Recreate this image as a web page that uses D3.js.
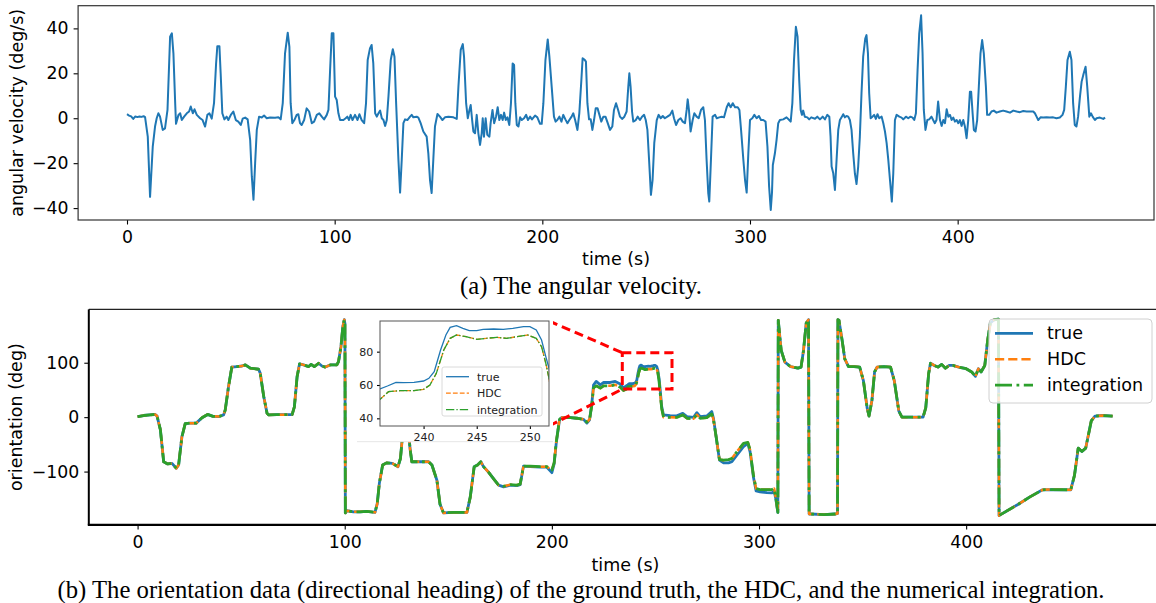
<!DOCTYPE html>
<html>
<head>
<meta charset="utf-8">
<script src="https://cdn.jsdelivr.net/npm/d3@7"></script>
<style>
  body { margin: 0; background: #fff; }
  svg { display: block; }
</style>
</head>
<body>
<div id="chart"></div>
<script>
/* (a) angular velocity, (b) orientation with inset zoom */

// (a) angular velocity [time s, deg/s]
const angVel = [
  [0,1.8],[1,1.2],[2,0.8],[3,-0.3],[4,0.8],[5,0.5],[6,0.8],[7,0.6],[8,0.9],[8.7,0.5],[10,-8.2],[11.1,-35],[12.4,-12.6],[13.5,-3.7],[14.3,0],[15.1,2.2],[15.9,0.7],[17.2,-5.2],[18.3,-4.5],[19.5,3.7],
  [20.75,36.3],[21.6,37.8],[22.35,28.9],[23.2,6.7],[23.6,-2.5],[24.8,1.5],[25.6,2.2],[26.4,-0.8],[27.5,0.7],[28.8,2.2],[29.9,3.0],[30.7,5.2],[31.7,2.2],[32.5,4.0],[33.6,1.5],[35.2,0],[36.4,-0.8],[37.6,-3.7],[38.7,1.5],[39.7,2.2],
  [40.8,-0.2],[41.9,6.7],[42.9,24.4],[43.5,32.1],[44.5,32.1],[45.1,20],[45.9,2.2],[46.9,-0.5],[48.0,0.7],[48.8,-0.8],[50.0,1.5],[51.2,3.0],[52.4,-0.8],[53.6,-1.5],[54.8,-3.0],[55.7,-0.2],[56.9,0.3],[58.1,-0.5],[59.3,-9.6],
  [60.1,-25.9],[60.9,-36.3],[61.7,-20],[62.5,-5.2],[63.6,0.7],[64.9,0.3],[66.0,1.2],[67.3,0],[68.9,0.3],[71.3,0.2],[72.9,0.4],[74.0,-0.5],[75.0,6.7],[76.1,28.9],[77.4,38.1],[78.2,31.8],[78.8,6.7],[79.6,-2.2],
  [80.6,-0.8],[81.7,1.5],[82.5,1.8],[83.3,-2.2],[84.1,-3.0],[85.3,-0.8],[86.5,4.4],[87.7,3.0],[89.0,-2.2],[90.1,-1.5],[91.4,1.5],[92.6,2.2],[93.8,0.7],[94.9,-0.5],[96.2,1.5],[97.0,3.7],[97.8,21.5],[98.6,37.8],[99.4,37.8],
  [100.2,9.6],[101.0,8.1],[101.8,2.2],[102.6,-0.8],[104.2,-0.8],[105.3,0],[106.1,0.7],[106.9,-0.8],[107.7,1.5],[108.6,-0.8],[109.8,1.5],[111.0,-0.8],[111.9,1.8],[113.0,-0.8],[114.2,-2.2],[115.1,6.7],[115.9,25.9],[117.0,31.1],[117.8,32.6],[118.6,24.4],[119.5,2.2],
  [120.3,0.7],[121.1,2.2],[121.9,3.4],[122.7,0],[123.5,-0.8],[124.3,-3.4],[125.1,-0.8],[125.9,9.6],[127.0,25.9],[128.0,30.7],[128.8,27.4],[129.6,6.7],[130.7,-18.5],[131.5,-33.1],[132.3,-18.5],[133.1,-2.2],[133.9,-0.5],[135.0,-0.8],[136.3,0.7],[137.1,1.5],[137.9,0.4],[139.5,0.7],
  [140.3,0.3],[141.4,-2.2],[142.7,-5.9],[144.3,-8.2],[145.1,-15.6],[145.9,-27.4],[146.7,-33.3],[147.5,-18.5],[148.3,-3.7],[149.5,1.9],[150.7,0.7],[151.9,-0.8],[153.1,0.4],[154.8,0.7],[157.2,0.4],[158.8,-0.3],[159.6,14.1],
  [160.7,30.4],[161.7,33.0],[162.3,27.4],[163.3,6.7],[164.1,0],[164.9,3.7],[165.5,5.9],[166.2,-0.8],[166.8,-5.9],[167.6,-6.7],[168.4,1.5],[169.2,-6.7],[170.0,-11.9],[170.8,-6.7],[171.3,0],[171.9,-8.2],[172.7,0],[173.5,-7.4],[174.5,-8.2],[175.1,-2.2],[176.0,3.7],[176.8,-2.2],[177.7,0.7],[178.5,4.9],[179.3,-0.8],
  [180.1,1.5],[180.9,-0.8],[181.6,2.5],[182.4,-0.8],[183.2,0.4],[184.1,-3.0],[184.9,6.7],[185.7,24.4],[186.4,23.7],[187.0,6.7],[187.7,-3.0],[188.5,-3.7],[189.3,0.4],[190.1,-0.8],[191.2,0],[192.2,1.5],[193.1,-0.8],[194.1,0.7],[195.0,-0.5],[196.5,1.2],[197.6,0.4],[198.9,-2.5],[199.7,-2.5],
  [200.5,6.7],[201.5,25.9],[202.6,35.1],[203.4,27.4],[204.5,14.1],[205.6,0.7],[206.4,-1.5],[207.2,-0.8],[208.2,0.7],[209.2,-1.5],[210.1,1.5],[211.1,-0.5],[212.1,-2.2],[213.0,-0.8],[214.1,0.7],[214.9,2.2],[215.8,-0.8],[216.9,-5.2],[217.8,2.2],[218.8,17.0],[219.4,26.7],
  [220.4,26.0],[221.0,25.2],[221.7,6.7],[222.5,-0.5],[223.3,-0.5],[224.1,-5.2],[224.9,-0.8],[225.7,4.4],[226.6,4.4],[227.5,1.5],[228.4,-1.5],[229.4,0.7],[230.4,0.7],[231.5,-2.2],[232.6,-5.2],[233.7,-3.7],[234.5,3.7],[235.5,6.7],[236.5,3.7],[237.4,0.7],[238.4,-0.3],[239.5,0.7],
  [240.6,3.0],[241.4,14.1],[241.9,20.0],[242.5,14.1],[243.2,3.0],[243.8,-1.5],[245.0,-0.8],[245.9,0.7],[247.0,-0.8],[248.0,0.7],[249.0,1.5],[249.8,-0.8],[250.6,-5.2],[251.4,-18.5],[252.3,-34.1],[253.1,-27.4],[253.9,-11.1],[255.1,-0.8],[256.0,1.5],[257.0,0],[258.0,1.0],[259.0,0],
  [260.2,0.7],[261.5,1.5],[262.6,3.4],[263.4,0],[264.4,-3.0],[265.5,-0.8],[266.6,0],[267.6,-1.5],[268.7,-2.2],[269.5,3.7],[270.0,8.4],[270.6,3.7],[271.4,-5.9],[272.4,-0.8],[273.2,2.2],[274.3,0.7],[275.3,0],[276.4,3.7],[277.5,4.9],[278.3,-0.8],[279.1,-18.5],[279.9,-33.3],
  [280.4,-37.1],[281.2,-18.5],[282.0,0.7],[283.2,1.5],[284.0,0],[285.2,0.4],[286.4,0.7],[287.5,0.4],[288.8,4.9],[289.7,6.7],[290.7,4.9],[291.7,6.7],[292.8,4.9],[294.1,4.9],[294.9,3.7],[295.7,-5.2],[296.8,-18.5],[297.6,-27.4],[298.4,-33.1],[299.2,-15.6],
  [300.0,-0.8],[301.1,0],[302.1,1.5],[303.2,0],[304.3,1.0],[305.3,-0.8],[306.4,-0.8],[307.5,-1.5],[308.4,-12.6],[309.2,-30.4],[310.0,-40.8],[310.6,-33],[311.0,-20.8],[312.0,-15.6],[312.8,-9.6],[313.6,-2.2],[314.4,-0.8],[316.0,-0.5],[317.6,0.4],[318.9,-0.8],[319.6,-1.5],
  [320.4,6.7],[321.2,25.9],[322.1,40.7],[322.9,36.3],[323.7,17.0],[324.4,3.7],[325.0,1.5],[325.6,3.4],[326.4,0.7],[327.6,0.4],[328.5,-0.5],[329.5,0.4],[331.3,-0.2],[332.4,0.7],[333.7,-0.5],[335.0,0.7],[336.1,-0.5],[337.2,1.5],[338.2,0.7],[338.8,-8.2],[339.3,-21.5],
  [340.1,-24.5],[340.9,-31.9],[341.7,-18.5],[342.5,-5.2],[343.3,-0.8],[344.1,0.4],[344.9,1.8],[345.7,0.4],[346.5,1.0],[347.3,0.7],[348.1,-0.8],[348.9,-5.2],[349.7,-15.6],[350.5,-24.5],[351.3,-29.3],[352.1,-21.5],[352.9,-8.2],[353.7,11.1],[354.5,27.4],[355.5,35.5],[356.1,37.0],[356.8,28.9],[357.4,11.1],[358.1,0],[359.0,0.7],[359.8,1.5],
  [360.6,-0.3],[361.4,1.8],[362.2,0],[363.4,0.7],[364.2,-2.2],[365.0,-5.9],[365.8,-11.1],[366.6,-18.5],[367.4,-27.4],[368.3,-37.1],[369.0,-24.5],[369.8,-0.8],[370.6,1.5],[371.9,0.7],[373.0,0.3],[373.8,-0.5],[375.1,0.7],[376.2,0],[377.3,0.7],[378.3,0.3],[379.1,-0.8],[379.9,2.2],
  [380.7,21.5],[381.5,37.8],[382.4,45.8],[383.1,28.9],[383.7,3.7],[384.5,-5.2],[385.4,-0.8],[386.3,-0.5],[387.4,0.7],[388.2,-0.8],[389.0,-2.2],[389.8,-0.8],[390.6,7.4],[391.5,-0.8],[392.3,-3.4],[393.1,-0.8],[393.9,-2.2],[394.7,4.0],[395.5,0.7],[396.3,1.5],[397.1,-0.8],[397.9,0.3],[398.7,-1.5],[399.5,-0.8],
  [400.3,-2.2],[401.1,-0.8],[401.9,-3.4],[402.7,-0.8],[403.5,-3.7],[404.3,-8.9],[405.1,-0.8],[405.9,11.8],[406.5,11.8],[407.2,2.2],[407.8,-5.2],[408.6,-5.9],[409.4,-0.8],[410.2,14.1],[411.0,28.9],[411.8,34.8],[412.6,28.9],[413.6,14.1],[414.2,1.5],[415.2,1.5],[416.3,3.0],[417.4,3.4],[418.7,2.5],
  [420.3,3.0],[421.9,3.4],[423.5,3.0],[425.2,2.5],[426.8,3.4],[428.4,3.0],[430.0,2.7],[431.6,3.2],[433.2,3.0],[434.8,3.0],[436.4,3.0],[437.2,2.2],[438.0,0.7],[438.8,-0.8],[439.9,0.4],[441.2,0.3],[442.8,0.4],[444.4,0.3],[446.0,0.4],[447.6,0],[449.2,0.3],
  [450.5,1.5],[451.3,3.7],[452.1,14.1],[452.9,25.9],[454.0,29.6],[454.8,25.9],[455.6,6.7],[456.4,-3.0],[457.2,-3.7],[458.0,0.7],[458.9,9.6],[459.7,16.3],[460.5,19.3],[461.6,22.9],[462.4,14.1],[463.4,0.7],[464.2,2.2],[465.0,0.7],[466.1,-0.8],[466.9,0],[468.5,0.3],[470.1,-0.3],[471.0,0.3]
];

// (b) ground truth heading [time s, deg]
const orientTrue = [
  [0,1],[2.9,3],[6,4],[8.5,5],[9.4,2],[11.0,-23],[12.6,-82],[14.5,-86],[16.6,-85],[18.7,-94],[19.8,-88],[21.4,-36],[23.0,-12],[25.4,-11],[28.3,-11],[31.1,-1],[33.8,5],[36.4,1.5],[39.1,1],[41.5,4],[42.3,13],[43.9,56],[45.5,92],[48.0,93],
  [50.4,94],[52.0,96],[54.4,90],[58.4,88],[59.2,81],[60.9,38],[62.5,7],[63.3,4],[67.3,4.5],[71.4,4.5],[74.6,4.5],[75.7,19],[77.0,74],[78.2,98],[80.1,96],[82.6,93],[83.8,97],[85.3,93],[87.4,99],[89.0,94],[90.6,92],[93.0,96],[96.2,96],[97.0,102],[98.2,130],[99.1,167],[99.8,179],[100.1,172],
  [100.3,-176],[101.0,-172],[104.2,-174],[107.4,-174],[110.6,-173],[114.6,-175],[115.7,-159],[116.7,-122],[118.3,-88],[120.2,-84],[123.0,-85],[125.7,-91],[126.9,-76],[128.0,-30],[129.5,5],[130.5,-15],[131.6,-60],[132.4,-82],[136.5,-82],[140.5,-82],[142.1,-88],[144.5,-116],[146.0,-160],[147.7,-176],
  [152.5,-175],[159.0,-175],[160.6,-147],[162.5,-91],[164.1,-88],[165.7,-82],[167.0,-91],[169.4,-101],[171.8,-113],[174.3,-125],[176.7,-128],[179.9,-125],[183.1,-126],[184.7,-124],[186.3,-90],[189.5,-91],[194.4,-92],[197.6,-92],[200.0,-102],[201.1,-86],[202.1,-48],[203.7,-5],[204.8,-0.5],[208.9,-1],[212.1,-2],[215.3,-4],[216.9,-11],[218.2,-5],
  [219.3,25],[220.1,59],[221.4,65.6],[223.4,59.4],[225,63.7],[228.2,63.7],[230.6,65.6],[233,61],[234.6,53.3],[235.9,57.6],[236.6,59.4],[237.4,61.6],[238.1,61.4],[239.1,61.6],[240.0,62.4],[240.5,64],[241.0,68],[241.6,81],[242.1,90],[242.5,94.6],[243.1,95.6],[243.7,94],[244.3,92.6],[245.0,92.6],[245.6,93.4],[246.6,93.6],[247.5,93.4],[248.4,94],[249.4,95],[250.0,95],[250.6,93],[251.1,87],[251.5,77],[251.8,70],[252.3,50],[253.0,20],[253.9,4],
  [257.1,2.8],[260.3,2.5],[263.2,7],[265.2,1],[268.4,-0.3],[270,8.3],[271.6,1],[274.8,2.2],[277.2,10.2],[278.0,-2.1],[279.3,-36],[280.9,-79],[282.9,-84],[285.3,-84],[286.9,-82],[289.3,-70],[292.5,-54.4],[294.6,-48.3],[295.7,-63.6],[297.3,-110],[298.6,-135.6],[300.5,-137.4],[303.8,-138.7],[306.2,-139.3],[307.3,-135.6],[308.1,-150],[309.1,-175],
  [309.3,178],[310.0,150],[310.7,123],[312.5,101],[315.2,93],[318.8,90],[320.3,92],[321.5,123],[322.8,173],[323.9,179],[324.2,-178],[325.1,-178],[331.4,-179],[336.8,-178],[337.9,-177],[338.1,179],[338.6,178],[340.1,142],[341.4,107],[343.2,93],[345.9,93],[348.6,92],[350.4,67],[352.2,17],[353.1,2],[354.5,30],[355.8,83],[357.0,92],
  [360.3,93],[363.5,92],[365.3,67],[367.5,11],[369.0,0],[372.9,0],[379.2,0],[380.5,17],[381.9,80],[382.8,99],[384.6,95],[386.4,92],[388.2,97],[390.0,90],[391.8,95],[393.6,95],[396.4,92],[400.0,89],[402.7,83],[404.5,75],[405.9,89],[407.2,83],[409.0,95],[410.4,142],[411.7,173],[413.5,179],[415.6,180],
  [415.9,-181],[416.2,-180],[425.2,-160],[430.6,-147],[436.9,-133.5],[441.4,-133],[450.5,-133.5],[452.3,-107],[454.1,-57],[455.9,-63],[457.7,-57],[460.4,-7],[462.2,2],[465.8,3],[470.7,2]
];

// (b) HDC output and numerical integration, same curve at this scale [time s, deg]
const orientEst = [
  [0,1],[2.9,3],[6,4],[8.5,5],[9.4,2],[11.0,-23],[12.6,-82],[14.5,-86],[16.6,-85],[18.7,-94],[19.8,-88],[21.4,-36],[23.0,-12],[25.4,-11],[28.3,-11],[31.1,-1],[33.8,5],[36.4,1.5],[39.1,1],[41.5,4],[42.3,13],[43.9,56],[45.5,92],[48.0,93],
  [50.4,94],[52.0,96],[54.4,90],[58.4,88],[59.2,81],[60.9,38],[62.5,7],[63.3,4],[67.3,4.5],[71.4,4.5],[74.6,4.5],[75.7,19],[77.0,74],[78.2,98],[80.1,96],[82.6,93],[83.8,97],[85.3,93],[87.4,99],[89.0,94],[90.6,92],[93.0,96],[96.2,96],[97.0,102],[98.2,130],[99.1,167],[99.8,179],[100.1,172],
  [100.3,-176],[101.0,-172],[104.2,-174],[107.4,-174],[110.6,-173],[114.6,-175],[115.7,-159],[116.7,-122],[118.3,-88],[120.2,-84],[123.0,-85],[125.7,-91],[126.9,-76],[128.0,-30],[129.5,5],[130.5,-15],[131.6,-60],[132.4,-82],[136.5,-82],[140.5,-82],[142.1,-88],[144.5,-116],[146.0,-160],[147.7,-176],
  [152.5,-175],[159.0,-175],[160.6,-147],[162.5,-91],[164.1,-88],[165.7,-82],[167.0,-91],[169.4,-101],[171.8,-113],[174.3,-125],[176.7,-127],[179.9,-124],[183.1,-125],[184.7,-123],[186.3,-90],[189.5,-90],[194.4,-91],[197.6,-91],[200.0,-97],[201.1,-84],[202.1,-46],[203.7,-4],[204.8,-0.5],[208.9,-1],[212.1,-2],[215.3,-4],[216.9,-9],[218.2,-4],
  [219.3,22],[220.1,54],[221.4,57.6],[223.4,53.3],[225,57.6],[228.2,57.6],[230.6,59.4],[233,55],[234.6,49],[235.9,51.4],[236.7,56],[237.8,56.6],[239.1,56.6],[240.0,57.4],[240.6,60],[241.2,67],[241.9,81],[242.5,88],[243.1,90],[244.0,89],[245.0,87.4],[245.9,88],[246.9,88.6],[247.8,88],[248.8,89],[249.8,90],[250.6,88],[251.1,83],[251.5,73],[251.8,64],[252.3,44],[253.0,16],[253.9,0],
  [257.1,-0.3],[260.3,-0.5],[263.2,4],[265.2,-2],[268.4,-3],[270,4.5],[271.6,-2],[274.8,-1],[277.2,6],[278.0,-4],[279.3,-36],[280.9,-78],[282.9,-79],[285.3,-78],[286.9,-76],[289.3,-63.6],[292.5,-48.3],[294.6,-46.4],[295.7,-60],[297.3,-107],[298.6,-131.3],[300.5,-133],[303.8,-133],[306.2,-133],[307.3,-131],[308.1,-148],[309.1,-175],
  [309.3,178],[310.0,150],[310.7,123],[312.5,101],[315.2,93],[318.8,90],[320.3,92],[321.5,123],[322.8,173],[323.9,179],[324.2,-178],[325.1,-178],[331.4,-179],[336.8,-178],[337.9,-177],[338.1,179],[338.6,178],[340.1,142],[341.4,107],[343.2,93],[345.9,93],[348.6,92],[350.4,67],[352.2,17],[353.1,2],[354.5,30],[355.8,83],[357.0,92],
  [360.3,93],[363.5,92],[365.3,67],[367.5,11],[369.0,0],[372.9,0],[379.2,0],[380.5,17],[381.9,80],[382.8,99],[384.6,95],[386.4,92],[388.2,97],[390.0,90],[391.8,95],[393.6,95],[396.4,92],[400.0,89],[402.7,83],[404.5,75],[405.9,89],[407.2,83],[409.0,95],[410.4,142],[411.7,173],[413.5,179],[415.6,180],
  [415.9,-181],[416.2,-180],[425.2,-160],[430.6,-147],[436.9,-133.5],[441.4,-133],[450.5,-133.5],[452.3,-107],[454.1,-57],[455.9,-63],[457.7,-57],[460.4,-7],[462.2,2],[465.8,3],[470.7,2]
];

const timeTicks = [0, 100, 200, 300, 400];
const avTicks = [-40, -20, 0, 20, 40];
const orientTicks = [-100, 0, 100];
const insetTimeTicks = [240, 245, 250];
const insetOrientTicks = [40, 60, 80];
const seriesNames = ['true', 'HDC', 'integration'];
// region marked in (b) and shown enlarged in the inset [t0, t1, v0, v1]
const zoomRegion = [234, 258, 51.5, 118.5];
const insetDomain = [235.9, 251.8, 35.4, 98.4];

const W = 1156, H = 603;
const FONT = 'DejaVu Sans, Liberation Sans, sans-serif';
const SERIF = 'Liberation Serif, Times New Roman, serif';
const BLUE = '#1f77b4', ORANGE = '#ff7f0e', GREEN = '#2ca02c';
const fmt = d => d < 0 ? '\u2212' + Math.abs(d) : String(d);

const styles = [
  { color: BLUE, width: 2.8, dash: null },
  { color: ORANGE, width: 2.5, dash: '9.2,4' },
  { color: GREEN, width: 2.8, dash: '17,4.5,2.8,4.5' }
];

const svg = d3.select('#chart').append('svg')
  .attr('width', W).attr('height', H)
  .attr('viewBox', `0 0 ${W} ${H}`);
svg.append('rect').attr('width', W).attr('height', H).attr('fill', '#fff');

function styleAxis(g, fs) {
  g.select('.domain').remove();
  g.selectAll('line').attr('stroke', '#000').attr('stroke-width', 1.1);
  g.selectAll('text').attr('font-family', FONT).attr('font-size', fs).attr('fill', '#000');
}

function drawTop() {
  const box = { l: 78.1, r: 1154, t: 5.7, b: 220 };
  const x = d3.scaleLinear().domain([-23.55, 494.55]).range([box.l, box.r]);
  const y = d3.scaleLinear().domain([-45.3, 50.1]).range([box.b, box.t]);
  const g = svg.append('g');

  g.append('g').attr('transform', `translate(0,${box.b})`)
    .call(d3.axisBottom(x).tickValues(timeTicks).tickSize(4.5).tickPadding(6.2))
    .call(a => styleAxis(a, 17.3));
  g.append('g').attr('transform', `translate(${box.l},0)`)
    .call(d3.axisLeft(y).tickValues(avTicks).tickFormat(fmt).tickSize(4.5).tickPadding(5.2))
    .call(a => styleAxis(a, 17.3));

  const line = d3.line().x(d => x(d[0])).y(d => y(d[1]));
  g.append('path').datum(angVel)
    .attr('d', line).attr('fill', 'none')
    .attr('stroke', BLUE).attr('stroke-width', 2).attr('stroke-linejoin', 'round');

  g.append('rect').attr('x', box.l).attr('y', box.t)
    .attr('width', box.r - box.l).attr('height', box.b - box.t)
    .attr('fill', 'none').attr('stroke', '#333').attr('stroke-width', 1.2);

  g.append('text').attr('x', (box.l + box.r) / 2).attr('y', 264.5)
    .attr('text-anchor', 'middle').attr('font-family', FONT).attr('font-size', 17.5)
    .text('time (s)');
  g.append('text').attr('transform', `translate(23.3,${(box.t + box.b) / 2}) rotate(-90)`)
    .attr('text-anchor', 'middle').attr('font-family', FONT).attr('font-size', 17.5)
    .text('angular velocity (deg/s)');
  g.append('text').attr('x', 581).attr('y', 294)
    .attr('text-anchor', 'middle').attr('font-family', SERIF).attr('font-size', 24.7)
    .text('(a) The angular velocity.');
}

function drawBottom() {
  const box = { l: 88.8, r: 1162, t: 309.4, b: 524.9 };
  const x = d3.scaleLinear().domain([-23.55, 494.55]).range([box.l, box.r]);
  const y = d3.scaleLinear().domain([-198, 198]).range([box.b, box.t]);
  const g = svg.append('g');
  const series = [orientTrue, orientEst, orientEst];

  g.append('g').attr('transform', `translate(0,${box.b})`)
    .call(d3.axisBottom(x).tickValues(timeTicks).tickSize(4.5).tickPadding(6.2))
    .call(a => styleAxis(a, 17.3));
  g.append('g').attr('transform', `translate(${box.l},0)`)
    .call(d3.axisLeft(y).tickValues(orientTicks).tickFormat(fmt).tickSize(4.5).tickPadding(5))
    .call(a => styleAxis(a, 17.3));

  const line = d3.line().x(d => x(d[0])).y(d => y(d[1]));
  series.forEach((s, i) => {
    g.append('path').datum(s)
      .attr('d', line).attr('fill', 'none')
      .attr('stroke', styles[i].color).attr('stroke-width', styles[i].width)
      .attr('stroke-dasharray', styles[i].dash)
      .attr('stroke-linejoin', 'round');
  });

  // inset axes geometry
  const ib = { l: 380, r: 549, t: 321, b: 426 };
  const xi = d3.scaleLinear().domain([insetDomain[0], insetDomain[1]]).range([ib.l, ib.r]);
  const yi = d3.scaleLinear().domain([insetDomain[2], insetDomain[3]]).range([ib.b, ib.t]);

  // red dashed zoom marker + connectors
  const red = g.append('g').attr('fill', 'none').attr('stroke', '#ff0000')
    .attr('stroke-width', 3).attr('stroke-dasharray', '9,5');
  red.append('rect')
    .attr('x', x(zoomRegion[0])).attr('y', y(zoomRegion[3]))
    .attr('width', x(zoomRegion[1]) - x(zoomRegion[0]))
    .attr('height', y(zoomRegion[2]) - y(zoomRegion[3]));
  red.append('line').attr('x1', ib.r).attr('y1', ib.t)
    .attr('x2', x(zoomRegion[0])).attr('y2', y(zoomRegion[3]));
  red.append('line').attr('x1', ib.r).attr('y1', ib.b)
    .attr('x2', x(zoomRegion[0])).attr('y2', y(zoomRegion[2]));

  // inset background (covers its tick labels too)
  g.append('rect').attr('x', 357).attr('y', box.t + 1).attr('width', 196).attr('height', 441.7 - box.t - 1)
    .attr('fill', '#fff');
  g.append('line').attr('x1', 357).attr('x2', 553).attr('y1', 441.7).attr('y2', 441.7)
    .attr('stroke', '#e6e6e6').attr('stroke-width', 1);

  const ig = g.append('g');
  ig.append('g').attr('transform', `translate(0,${ib.b})`)
    .call(d3.axisBottom(xi).tickValues(insetTimeTicks).tickSize(3).tickPadding(3.9))
    .call(a => styleAxis(a, 11));
  ig.append('g').attr('transform', `translate(${ib.l},0)`)
    .call(d3.axisLeft(yi).tickValues(insetOrientTicks).tickSize(3).tickPadding(3.7))
    .call(a => styleAxis(a, 11));
  ig.selectAll('text').attr('fill', '#222');

  svg.append('clipPath').attr('id', 'insetClip')
    .append('rect').attr('x', ib.l).attr('y', ib.t).attr('width', ib.r - ib.l).attr('height', ib.b - ib.t);
  const iline = d3.line().x(d => xi(d[0])).y(d => yi(d[1]));
  const insetDash = [null, '4.8,2.1', '8.3,2.1,1.3,2.1'];
  const il = ig.append('g').attr('clip-path', 'url(#insetClip)');
  series.forEach((s, i) => {
    il.append('path').datum(s.filter(d => d[0] > 230 && d[0] < 256))
      .attr('d', iline).attr('fill', 'none')
      .attr('stroke', styles[i].color).attr('stroke-width', 1.3)
      .attr('stroke-dasharray', insetDash[i]);
  });
  ig.append('rect').attr('x', ib.l).attr('y', ib.t)
    .attr('width', ib.r - ib.l).attr('height', ib.b - ib.t)
    .attr('fill', 'none').attr('stroke', '#555').attr('stroke-width', 1);

  // inset legend
  const il2 = ig.append('g');
  il2.append('rect').attr('x', 442).attr('y', 367).attr('width', 100).attr('height', 49)
    .attr('rx', 2).attr('fill', '#fff').attr('fill-opacity', 0.8)
    .attr('stroke', '#d0d0d0').attr('stroke-width', 0.8);
  seriesNames.forEach((name, i) => {
    const yy = 376.7 + i * 16.5;
    il2.append('line').attr('x1', 446).attr('x2', 469).attr('y1', yy).attr('y2', yy)
      .attr('stroke', styles[i].color).attr('stroke-width', 1.3)
      .attr('stroke-dasharray', insetDash[i]);
    il2.append('text').attr('x', 477).attr('y', yy).attr('dy', '0.35em')
      .attr('font-family', FONT).attr('font-size', 11).attr('fill', '#222').text(name);
  });

  // main frame
  const frame = g.append('g').attr('fill', 'none');
  frame.append('line').attr('x1', box.l).attr('x2', box.r).attr('y1', box.t).attr('y2', box.t)
    .attr('stroke', '#222').attr('stroke-width', 1.3);
  frame.append('line').attr('x1', box.r).attr('x2', box.r).attr('y1', box.t).attr('y2', box.b)
    .attr('stroke', '#222').attr('stroke-width', 1.3);
  frame.append('line').attr('x1', box.l).attr('x2', box.l).attr('y1', box.t).attr('y2', box.b)
    .attr('stroke', '#000').attr('stroke-width', 2);
  frame.append('line').attr('x1', box.l - 1).attr('x2', box.r).attr('y1', box.b).attr('y2', box.b)
    .attr('stroke', '#000').attr('stroke-width', 2.2);

  // main legend
  const lg = g.append('g');
  lg.append('rect').attr('x', 989).attr('y', 319).attr('width', 163).attr('height', 84)
    .attr('rx', 4).attr('fill', '#fff').attr('fill-opacity', 0.8)
    .attr('stroke', '#d0d0d0').attr('stroke-width', 1);
  seriesNames.forEach((name, i) => {
    const yy = 333.3 + i * 25.9;
    lg.append('line').attr('x1', 995).attr('x2', 1033).attr('y1', yy).attr('y2', yy)
      .attr('stroke', styles[i].color).attr('stroke-width', styles[i].width)
      .attr('stroke-dasharray', styles[i].dash);
    lg.append('text').attr('x', 1047).attr('y', yy).attr('dy', '0.35em')
      .attr('font-family', FONT).attr('font-size', 17.5).text(name);
  });

  g.append('text').attr('x', (box.l + box.r) / 2).attr('y', 571)
    .attr('text-anchor', 'middle').attr('font-family', FONT).attr('font-size', 17.5)
    .text('time (s)');
  g.append('text').attr('transform', `translate(22,${(box.t + box.b) / 2}) rotate(-90)`)
    .attr('text-anchor', 'middle').attr('font-family', FONT).attr('font-size', 17.5)
    .text('orientation (deg)');
  g.append('text').attr('x', 581).attr('y', 598)
    .attr('text-anchor', 'middle').attr('font-family', SERIF).attr('font-size', 24.7)
    .text('(b) The orientation data (directional heading) of the ground truth, the HDC, and the numerical integration.');
}

drawTop();
drawBottom();
</script>
</body>
</html>
